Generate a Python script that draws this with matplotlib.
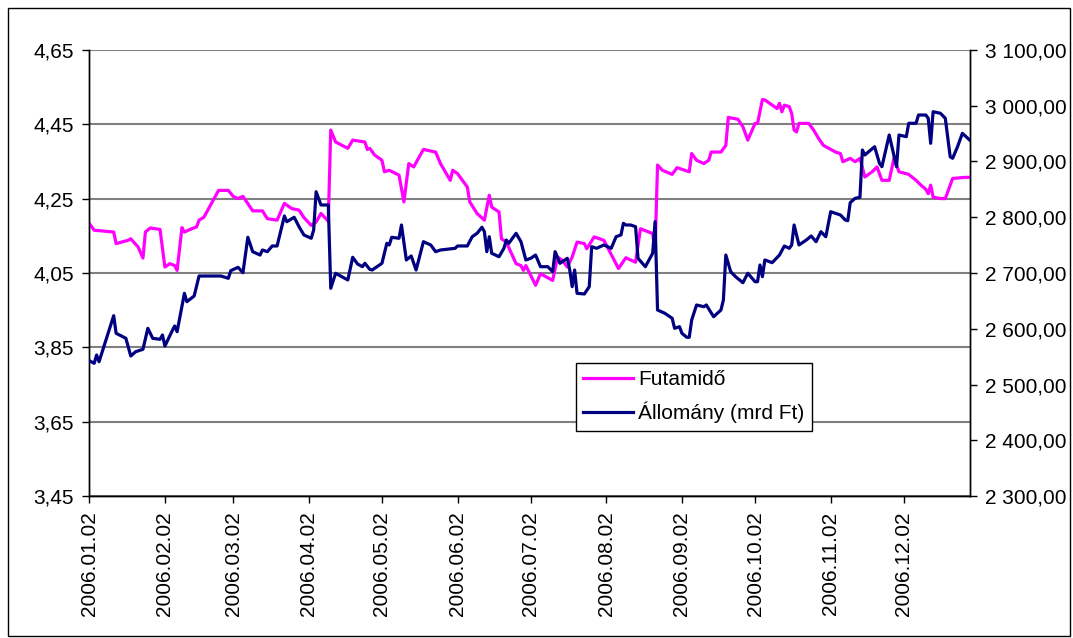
import matplotlib
matplotlib.use("Agg")
import matplotlib.pyplot as plt
import matplotlib.dates as mdates
from matplotlib.ticker import FixedLocator, FuncFormatter
from matplotlib.patches import Rectangle
import pandas as pd

# ---------------- data ----------------
fut_dates = [
    "2006-01-02", "2006-01-04", "2006-01-12", "2006-01-13", "2006-01-18", "2006-01-19",
    "2006-01-22", "2006-01-24", "2006-01-25", "2006-01-27", "2006-01-31", "2006-02-02",
    "2006-02-04", "2006-02-06", "2006-02-07", "2006-02-09", "2006-02-10", "2006-02-13",
    "2006-02-15", "2006-02-16", "2006-02-18", "2006-02-24", "2006-02-28", "2006-03-02",
    "2006-03-04", "2006-03-06", "2006-03-10", "2006-03-14", "2006-03-16", "2006-03-20",
    "2006-03-23", "2006-03-26", "2006-03-29", "2006-03-31", "2006-04-03", "2006-04-05",
    "2006-04-07", "2006-04-10", "2006-04-11", "2006-04-13", "2006-04-18", "2006-04-20",
    "2006-04-25", "2006-04-26", "2006-04-27", "2006-04-29", "2006-05-02", "2006-05-03",
    "2006-05-05", "2006-05-09", "2006-05-11", "2006-05-13", "2006-05-15", "2006-05-19",
    "2006-05-24", "2006-05-26", "2006-05-30", "2006-05-31", "2006-06-02", "2006-06-06",
    "2006-06-07", "2006-06-10", "2006-06-13", "2006-06-15", "2006-06-16", "2006-06-19",
    "2006-06-20", "2006-06-22", "2006-06-26", "2006-06-28", "2006-06-29", "2006-06-30",
    "2006-07-04", "2006-07-06", "2006-07-11", "2006-07-13", "2006-07-15", "2006-07-17",
    "2006-07-19", "2006-07-21", "2006-07-24", "2006-07-25", "2006-07-28", "2006-08-01",
    "2006-08-07", "2006-08-10", "2006-08-14", "2006-08-16", "2006-08-21", "2006-08-22",
    "2006-08-23", "2006-08-25", "2006-08-29", "2006-08-31", "2006-09-05", "2006-09-06",
    "2006-09-08", "2006-09-11", "2006-09-13", "2006-09-14", "2006-09-18", "2006-09-20",
    "2006-09-21", "2006-09-25", "2006-09-27", "2006-09-29", "2006-10-02", "2006-10-03",
    "2006-10-05", "2006-10-06", "2006-10-09", "2006-10-11", "2006-10-12", "2006-10-13",
    "2006-10-14", "2006-10-16", "2006-10-17", "2006-10-18", "2006-10-19", "2006-10-20",
    "2006-10-24", "2006-10-26", "2006-10-28", "2006-10-30", "2006-11-02", "2006-11-04",
    "2006-11-06", "2006-11-07", "2006-11-10", "2006-11-12", "2006-11-14", "2006-11-16",
    "2006-11-19", "2006-11-21", "2006-11-23", "2006-11-26", "2006-11-28", "2006-11-30",
    "2006-12-04", "2006-12-07", "2006-12-09", "2006-12-11", "2006-12-12", "2006-12-13",
    "2006-12-14", "2006-12-17", "2006-12-19", "2006-12-22", "2006-12-27", "2006-12-29",
]
fut_values = [
    4.183, 4.165, 4.160, 4.129, 4.138, 4.142,
    4.120, 4.090, 4.160, 4.171, 4.167, 4.066,
    4.075, 4.070, 4.057, 4.172, 4.160, 4.169,
    4.174, 4.192, 4.200, 4.272, 4.272, 4.256,
    4.250, 4.256, 4.217, 4.217, 4.196, 4.192,
    4.237, 4.223, 4.219, 4.199, 4.178, 4.187,
    4.210, 4.189, 4.434, 4.402, 4.385, 4.407,
    4.402, 4.382, 4.385, 4.367, 4.353, 4.322,
    4.326, 4.313, 4.241, 4.344, 4.335, 4.382,
    4.375, 4.344, 4.299, 4.326, 4.317, 4.281,
    4.241, 4.210, 4.192, 4.259, 4.227, 4.214,
    4.142, 4.133, 4.075, 4.070, 4.057, 4.070,
    4.017, 4.048, 4.030, 4.093, 4.084, 4.066,
    4.093, 4.133, 4.129, 4.115, 4.147, 4.138,
    4.062, 4.091, 4.079, 4.169, 4.156, 4.111,
    4.340, 4.326, 4.315, 4.333, 4.322, 4.371,
    4.353, 4.344, 4.353, 4.375, 4.375, 4.393,
    4.468, 4.463, 4.443, 4.407, 4.452, 4.452,
    4.516, 4.515, 4.501, 4.492, 4.506, 4.483,
    4.501, 4.497, 4.479, 4.434, 4.429, 4.452,
    4.452, 4.434, 4.412, 4.393, 4.382, 4.375,
    4.371, 4.349, 4.358, 4.349, 4.358, 4.308,
    4.322, 4.335, 4.299, 4.299, 4.360, 4.322,
    4.315, 4.299, 4.286, 4.275, 4.263, 4.286,
    4.254, 4.250, 4.250, 4.304, 4.307, 4.307,
]

all_dates = [
    "2006-01-02", "2006-01-04", "2006-01-05", "2006-01-06", "2006-01-12", "2006-01-13",
    "2006-01-17", "2006-01-19", "2006-01-21", "2006-01-24", "2006-01-26", "2006-01-28",
    "2006-01-31", "2006-02-01", "2006-02-02", "2006-02-05", "2006-02-06", "2006-02-07",
    "2006-02-10", "2006-02-11", "2006-02-14", "2006-02-16", "2006-02-25", "2006-02-28",
    "2006-03-01", "2006-03-04", "2006-03-06", "2006-03-08", "2006-03-10", "2006-03-13",
    "2006-03-14", "2006-03-16", "2006-03-18", "2006-03-20", "2006-03-23", "2006-03-24",
    "2006-03-27", "2006-03-29", "2006-03-31", "2006-04-03", "2006-04-04", "2006-04-05",
    "2006-04-07", "2006-04-10", "2006-04-11", "2006-04-13", "2006-04-18", "2006-04-20",
    "2006-04-22", "2006-04-24", "2006-04-25", "2006-04-27", "2006-04-28", "2006-05-02",
    "2006-05-04", "2006-05-05", "2006-05-06", "2006-05-09", "2006-05-10", "2006-05-12",
    "2006-05-14", "2006-05-16", "2006-05-19", "2006-05-22", "2006-05-24", "2006-05-26",
    "2006-06-01", "2006-06-02", "2006-06-06", "2006-06-08", "2006-06-10", "2006-06-12",
    "2006-06-13", "2006-06-14", "2006-06-15", "2006-06-16", "2006-06-19", "2006-06-21",
    "2006-06-22", "2006-06-23", "2006-06-26", "2006-06-28", "2006-06-30", "2006-07-02",
    "2006-07-04", "2006-07-06", "2006-07-09", "2006-07-11", "2006-07-12", "2006-07-14",
    "2006-07-16", "2006-07-17", "2006-07-18", "2006-07-19", "2006-07-20", "2006-07-21",
    "2006-07-24", "2006-07-26", "2006-07-27", "2006-07-29", "2006-08-01", "2006-08-04",
    "2006-08-06", "2006-08-08", "2006-08-09", "2006-08-10", "2006-08-12", "2006-08-14",
    "2006-08-15", "2006-08-18", "2006-08-21", "2006-08-22", "2006-08-23", "2006-08-26",
    "2006-08-29", "2006-08-30", "2006-09-01", "2006-09-02", "2006-09-04", "2006-09-05",
    "2006-09-06", "2006-09-08", "2006-09-11", "2006-09-12", "2006-09-15", "2006-09-18",
    "2006-09-19", "2006-09-20", "2006-09-22", "2006-09-24", "2006-09-27", "2006-09-29",
    "2006-10-02", "2006-10-03", "2006-10-04", "2006-10-05", "2006-10-06", "2006-10-09",
    "2006-10-12", "2006-10-14", "2006-10-16", "2006-10-17", "2006-10-18", "2006-10-20",
    "2006-10-23", "2006-10-25", "2006-10-27", "2006-10-29", "2006-10-31", "2006-11-02",
    "2006-11-06", "2006-11-08", "2006-11-09", "2006-11-10", "2006-11-12", "2006-11-14",
    "2006-11-15", "2006-11-16", "2006-11-20", "2006-11-22", "2006-11-23", "2006-11-26",
    "2006-11-29", "2006-11-30", "2006-12-03", "2006-12-04", "2006-12-07", "2006-12-08",
    "2006-12-11", "2006-12-12", "2006-12-13", "2006-12-14", "2006-12-17", "2006-12-19",
    "2006-12-21", "2006-12-22", "2006-12-24", "2006-12-26", "2006-12-29",
]
all_values = [
    2542.9, 2538.2, 2553.1, 2541.1, 2623.5, 2592.0,
    2583.0, 2551.3, 2559.0, 2563.3, 2600.9, 2583.0,
    2581.2, 2588.9, 2569.2, 2596.6, 2605.1, 2594.9,
    2663.6, 2648.6, 2658.8, 2694.6, 2694.6, 2690.5,
    2704.1, 2710.2, 2700.5, 2764.0, 2738.2, 2732.2,
    2741.2, 2738.2, 2748.4, 2748.4, 2802.1, 2791.9,
    2799.8, 2782.9, 2768.1, 2762.2, 2777.0, 2845.6,
    2821.8, 2821.8, 2672.6, 2699.5, 2687.5, 2728.1,
    2716.1, 2711.3, 2717.4, 2706.6, 2705.4, 2717.4,
    2753.2, 2750.2, 2764.0, 2762.2, 2786.0, 2723.3,
    2730.5, 2705.4, 2756.1, 2750.2, 2738.2, 2741.2,
    2744.2, 2748.4, 2748.4, 2765.0, 2771.1, 2781.9,
    2774.0, 2738.2, 2765.0, 2735.3, 2729.2, 2744.2,
    2759.1, 2753.2, 2771.1, 2756.1, 2723.3, 2726.3,
    2732.2, 2711.3, 2711.3, 2702.3, 2738.2, 2717.4,
    2723.3, 2726.3, 2705.4, 2675.5, 2705.4, 2663.6,
    2662.4, 2675.5, 2747.1, 2744.2, 2750.2, 2744.2,
    2765.0, 2768.1, 2789.0, 2786.0, 2786.0, 2782.9,
    2726.3, 2711.3, 2735.3, 2791.9, 2633.7, 2627.8,
    2618.9, 2600.9, 2603.8, 2592.0, 2584.8, 2584.8,
    2615.8, 2642.7, 2639.6, 2642.7, 2621.7, 2633.7,
    2651.6, 2732.2, 2702.3, 2693.4, 2682.6, 2699.5,
    2684.4, 2684.4, 2714.3, 2693.4, 2723.3, 2718.5,
    2732.2, 2748.4, 2744.2, 2750.2, 2786.0, 2750.2,
    2759.1, 2766.3, 2756.1, 2774.0, 2765.0, 2809.8,
    2803.9, 2794.9, 2793.7, 2825.9, 2833.8, 2835.6,
    2920.3, 2911.4, 2926.2, 2896.5, 2890.4, 2947.2,
    2890.4, 2947.2, 2944.2, 2968.2, 2968.2, 2983.0,
    2983.0, 2977.1, 2932.3, 2988.9, 2986.1, 2977.1,
    2908.3, 2905.5, 2926.2, 2950.2, 2938.2,
]

x_tick_dates = ["2006-01-02", "2006-02-02", "2006-03-02", "2006-04-02", "2006-05-02",
                "2006-06-02", "2006-07-02", "2006-08-02", "2006-09-02", "2006-10-02",
                "2006-11-02", "2006-12-02"]
left_ticks = [3.45, 3.65, 3.85, 4.05, 4.25, 4.45, 4.65]
right_ticks = [2300, 2400, 2500, 2600, 2700, 2800, 2900, 3000, 3100]
series_names = ["Futamidő", "Állomány (mrd Ft)"]

# ---------------- plotting ----------------
plt.rcParams["font.family"] = ["Liberation Sans", "DejaVu Sans"]
FS = 15

fig = plt.figure(figsize=(10.73, 6.38), dpi=100)
ax = fig.add_axes([89.3 / 1073, 1 - 496.3 / 638, (969.7 - 89.3) / 1073, (496.3 - 49.7) / 638])
ax2 = ax.twinx()

fd = pd.to_datetime(fut_dates)
ad = pd.to_datetime(all_dates)

l1, = ax.plot(fd, fut_values, color="#FF00FF", lw=2.3, solid_joinstyle="round", zorder=3)
l2, = ax2.plot(ad, all_values, color="#000080", lw=2.3, solid_joinstyle="round", zorder=3)

ax.set_xlim(pd.Timestamp("2006-01-02"), pd.Timestamp("2006-12-29"))
ax.set_ylim(3.45, 4.65)
ax2.set_ylim(2300, 3100)

ax.yaxis.set_major_locator(FixedLocator(left_ticks))
ax.yaxis.set_major_formatter(FuncFormatter(lambda v, p: f"{v:.2f}".replace(".", ",")))


def huf(v, p):
    s = f"{v:,.2f}"
    return s.replace(",", " ").replace(".", ",")


ax2.yaxis.set_major_locator(FixedLocator(right_ticks))
ax2.yaxis.set_major_formatter(FuncFormatter(huf))

ax.xaxis.set_major_locator(FixedLocator(mdates.date2num(pd.to_datetime(x_tick_dates))))
ax.xaxis.set_major_formatter(mdates.DateFormatter("%Y.%m.%d"))
for lab in ax.get_xticklabels():
    lab.set_rotation(90)

ax.grid(axis="y", color="#808080", lw=1.5, zorder=0)
ax.set_axisbelow(True)

for a in (ax, ax2):
    a.spines["top"].set_visible(False)
    for s in ("left", "right", "bottom"):
        a.spines[s].set_color("#000000")
        a.spines[s].set_linewidth(1.0)

ax.tick_params(axis="both", direction="out", length=5, width=1, labelsize=FS, colors="black", pad=6)
ax.tick_params(axis="x", pad=6)
ax2.tick_params(axis="y", direction="out", length=5, width=1, labelsize=FS, colors="black", pad=6)

leg = ax.legend([l1, l2], series_names, loc="upper left",
                bbox_to_anchor=(576 / 1073, 1 - 363 / 638), bbox_transform=fig.transFigure,
                fontsize=FS, frameon=True, fancybox=False, framealpha=1,
                edgecolor="#000000", borderpad=0.35, labelspacing=0.6,
                handlelength=2.4, handletextpad=0.25, borderaxespad=0)
leg.get_frame().set_linewidth(1.0)
leg.set_zorder(10)
ax.set_zorder(ax2.get_zorder() + 1)
ax.patch.set_visible(False)
# keep lines' draw order: navy over magenta in the original; move legend onto ax2
leg.remove()
ax.set_zorder(0)
ax2.patch.set_visible(False)
leg2 = ax2.legend([l1, l2], series_names, loc="upper left",
                  bbox_to_anchor=(576 / 1073, 1 - 363 / 638), bbox_transform=fig.transFigure,
                  fontsize=FS, frameon=True, fancybox=False, framealpha=1,
                  edgecolor="#000000", borderpad=0.35, labelspacing=0.6,
                  handlelength=2.4, handletextpad=0.25, borderaxespad=0)
leg2.get_frame().set_linewidth(1.0)

fig.patches.append(Rectangle((8 / 1073, 2 / 638), 1062 / 1073, 628 / 638,
                             transform=fig.transFigure, fill=False,
                             edgecolor="#000000", lw=1.0))

fig.savefig("out.png", dpi=100)
